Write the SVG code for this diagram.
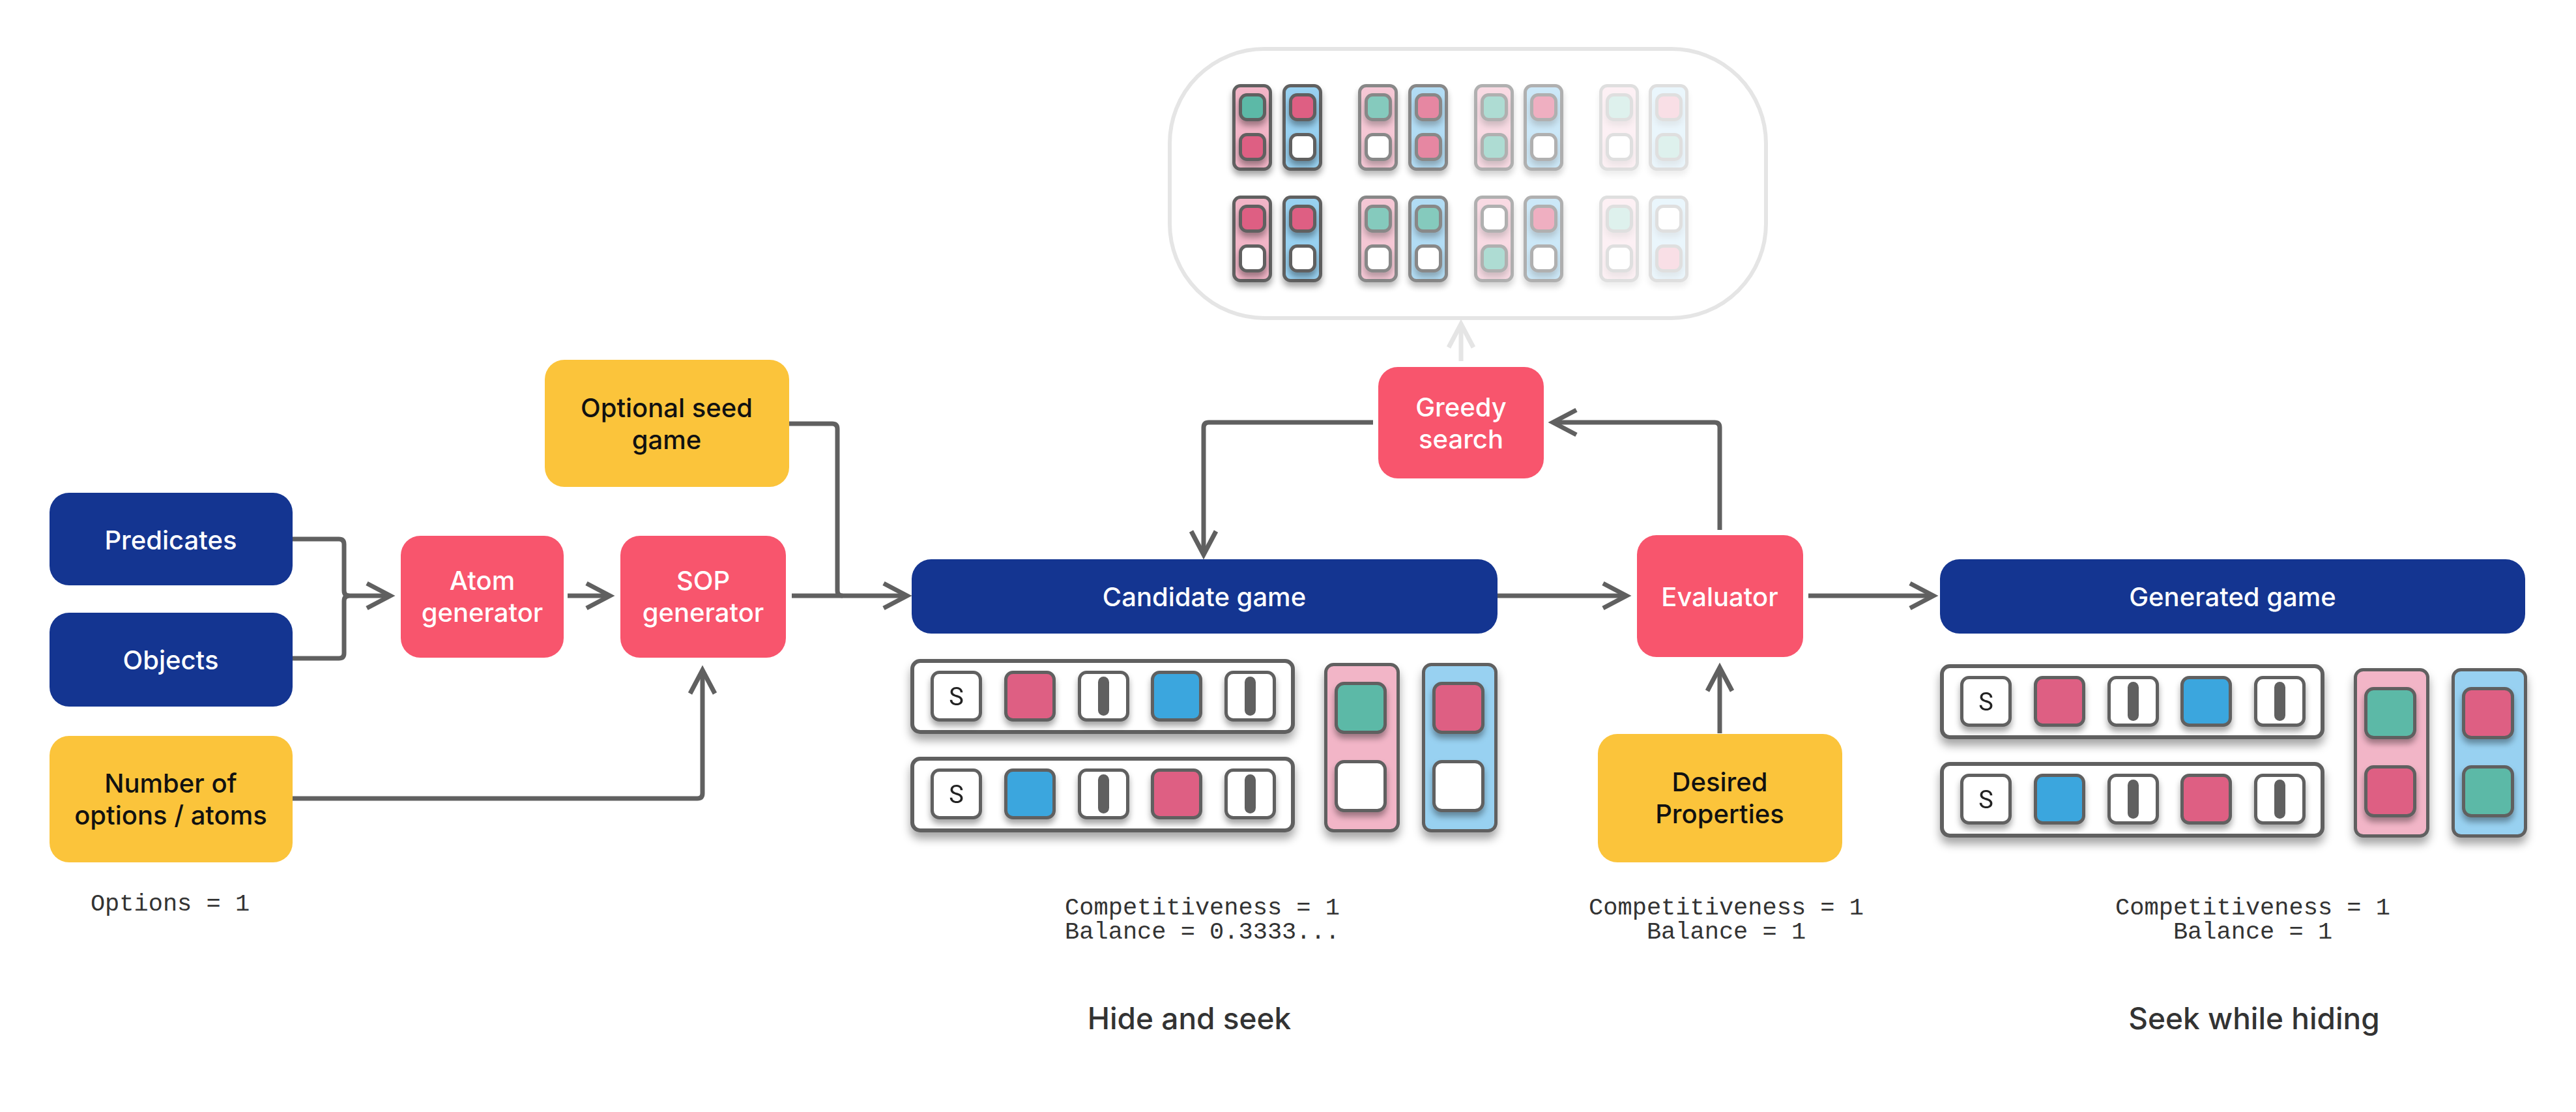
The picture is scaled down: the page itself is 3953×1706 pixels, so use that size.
<svg xmlns="http://www.w3.org/2000/svg" xmlns:xlink="http://www.w3.org/1999/xlink" width="3953" height="1706" viewBox="0 0 3953 1706">
<style>
.conn{fill:none;stroke:#606060;stroke-width:7;stroke-linejoin:round}
.light{fill:none;stroke:#e5e5e5;stroke-width:7}
.lbl{font-family:Inter,"Noto Sans","Liberation Sans",sans-serif;font-size:40px;font-weight:500;text-anchor:middle}
.w{fill:#ffffff}
.k{fill:#111111}
.navy{fill:#143591}
.red{fill:#f8556d}
.yel{fill:#fbc43b}
.mono{font-family:"Liberation Mono","DejaVu Sans Mono",monospace;font-size:37px;fill:#333333;text-anchor:middle}
.cap{font-family:Inter,"Noto Sans","Liberation Sans",sans-serif;font-size:46px;font-weight:500;fill:#333333;text-anchor:middle}
.box{fill:#ffffff;stroke:#606060;stroke-width:6}
</style>
<defs>
<filter id="sh" x="-50%" y="-50%" width="200%" height="200%">
<feDropShadow dx="0" dy="10" stdDeviation="7" flood-color="#000" flood-opacity="0.35"/>
</filter>
<filter id="shs" x="-50%" y="-50%" width="200%" height="200%">
<feDropShadow dx="0" dy="7" stdDeviation="5" flood-color="#000" flood-opacity="0.35"/>
</filter>
<marker id="ah" markerUnits="userSpaceOnUse" orient="auto" overflow="visible" markerWidth="10" markerHeight="10">
<path d="M-36,-19 L0,0 L-36,19" fill="none" stroke="#606060" stroke-width="7" stroke-linejoin="miter"/>
</marker>
<marker id="ahl" markerUnits="userSpaceOnUse" orient="auto" overflow="visible" markerWidth="10" markerHeight="10">
<path d="M-36,-19 L0,0 L-36,19" fill="none" stroke="#e5e5e5" stroke-width="7" stroke-linejoin="miter"/>
</marker>
<!-- row tiles 79x78 -->
<g id="tW"><rect x="2.5" y="2.5" width="74" height="73" rx="11" fill="#ffffff" stroke="#606060" stroke-width="5"/></g>
<g id="tR"><rect x="2.5" y="2.5" width="74" height="73" rx="11" fill="#de5e83" stroke="#606060" stroke-width="5"/></g>
<g id="tB"><rect x="2.5" y="2.5" width="74" height="73" rx="11" fill="#3ba6de" stroke="#606060" stroke-width="5"/></g>
<g id="tS"><use href="#tW"/><text x="39.5" y="53" font-family="Roboto,'Liberation Sans',sans-serif" font-size="38" fill="#222" text-anchor="middle">S</text></g>
<g id="tBar"><use href="#tW"/><rect x="31" y="9" width="17" height="60" rx="8.5" fill="#606060"/></g>
<!-- column tiles 80x80 -->
<g id="kT"><rect x="2.5" y="2.5" width="75" height="75" rx="12" fill="#5bb9a7" stroke="#606060" stroke-width="5"/></g>
<g id="kR"><rect x="2.5" y="2.5" width="75" height="75" rx="12" fill="#de5e83" stroke="#606060" stroke-width="5"/></g>
<g id="kW"><rect x="2.5" y="2.5" width="75" height="75" rx="12" fill="#ffffff" stroke="#606060" stroke-width="5"/></g>
<g id="colP"><rect x="2.5" y="2.5" width="111" height="255" rx="12" fill="#f2b5c7" stroke="#606060" stroke-width="5"/></g>
<g id="colB"><rect x="2.5" y="2.5" width="111" height="255" rx="12" fill="#98d1f1" stroke="#606060" stroke-width="5"/></g>
<!-- cloud pieces -->
<g id="cP"><rect x="2.5" y="2.5" width="56" height="128" rx="10" fill="#f2b5c7" stroke="#606060" stroke-width="5"/></g>
<g id="cB"><rect x="2.5" y="2.5" width="56" height="128" rx="10" fill="#98d1f1" stroke="#606060" stroke-width="5"/></g>
<g id="sT"><rect x="2.5" y="2.5" width="37" height="38" rx="10" fill="#5bb9a7" stroke="#606060" stroke-width="5"/></g>
<g id="sR"><rect x="2.5" y="2.5" width="37" height="38" rx="10" fill="#de5e83" stroke="#606060" stroke-width="5"/></g>
<g id="sW"><rect x="2.5" y="2.5" width="37" height="38" rx="10" fill="#ffffff" stroke="#606060" stroke-width="5"/></g>
<!-- full game illustration -->
<g id="gameRows">
<rect class="box" x="1400" y="1014" width="584" height="109" rx="12" filter="url(#sh)"/>
<rect class="box" x="1400" y="1164" width="584" height="110" rx="12" filter="url(#sh)"/>
<use href="#tS" x="1428" y="1029" filter="url(#shs)"/>
<use href="#tR" x="1541" y="1029" filter="url(#shs)"/>
<use href="#tBar" x="1654" y="1029" filter="url(#shs)"/>
<use href="#tB" x="1766" y="1029" filter="url(#shs)"/>
<use href="#tBar" x="1879" y="1029" filter="url(#shs)"/>
<use href="#tS" x="1428" y="1179" filter="url(#shs)"/>
<use href="#tB" x="1541" y="1179" filter="url(#shs)"/>
<use href="#tBar" x="1654" y="1179" filter="url(#shs)"/>
<use href="#tR" x="1766" y="1179" filter="url(#shs)"/>
<use href="#tBar" x="1879" y="1179" filter="url(#shs)"/>
<use href="#colP" x="2032" y="1017" filter="url(#sh)"/>
<use href="#colB" x="2182" y="1017" filter="url(#sh)"/>
</g>
</defs>
<rect width="3953" height="1706" fill="#ffffff"/>

<!-- search space cloud -->
<g id="search-space">
<rect x="1795" y="75" width="915" height="413" rx="145" fill="#ffffff" stroke="#e5e5e5" stroke-width="6"/>
<g id="cloud-g1" opacity="1">
<use href="#cP" x="1891" y="129" filter="url(#shs)"/><use href="#sT" x="1901" y="143" filter="url(#shs)"/><use href="#sR" x="1901" y="204" filter="url(#shs)"/>
<use href="#cB" x="1968" y="129" filter="url(#shs)"/><use href="#sR" x="1978" y="143" filter="url(#shs)"/><use href="#sW" x="1978" y="204" filter="url(#shs)"/>
<use href="#cP" x="1891" y="300" filter="url(#shs)"/><use href="#sR" x="1901" y="314" filter="url(#shs)"/><use href="#sW" x="1901" y="375" filter="url(#shs)"/>
<use href="#cB" x="1968" y="300" filter="url(#shs)"/><use href="#sR" x="1978" y="314" filter="url(#shs)"/><use href="#sW" x="1978" y="375" filter="url(#shs)"/>
</g>
<g id="cloud-g2" opacity="0.75">
<use href="#cP" x="2084" y="129" filter="url(#shs)"/><use href="#sT" x="2094" y="143" filter="url(#shs)"/><use href="#sW" x="2094" y="204" filter="url(#shs)"/>
<use href="#cB" x="2161" y="129" filter="url(#shs)"/><use href="#sR" x="2171" y="143" filter="url(#shs)"/><use href="#sR" x="2171" y="204" filter="url(#shs)"/>
<use href="#cP" x="2084" y="300" filter="url(#shs)"/><use href="#sT" x="2094" y="314" filter="url(#shs)"/><use href="#sW" x="2094" y="375" filter="url(#shs)"/>
<use href="#cB" x="2161" y="300" filter="url(#shs)"/><use href="#sT" x="2171" y="314" filter="url(#shs)"/><use href="#sW" x="2171" y="375" filter="url(#shs)"/>
</g>
<g id="cloud-g3" opacity="0.5">
<use href="#cP" x="2262" y="129" filter="url(#shs)"/><use href="#sT" x="2272" y="143" filter="url(#shs)"/><use href="#sT" x="2272" y="204" filter="url(#shs)"/>
<use href="#cB" x="2338" y="129" filter="url(#shs)"/><use href="#sR" x="2348" y="143" filter="url(#shs)"/><use href="#sW" x="2348" y="204" filter="url(#shs)"/>
<use href="#cP" x="2262" y="300" filter="url(#shs)"/><use href="#sW" x="2272" y="314" filter="url(#shs)"/><use href="#sT" x="2272" y="375" filter="url(#shs)"/>
<use href="#cB" x="2338" y="300" filter="url(#shs)"/><use href="#sR" x="2348" y="314" filter="url(#shs)"/><use href="#sW" x="2348" y="375" filter="url(#shs)"/>
</g>
<g id="cloud-g4" opacity="0.2">
<use href="#cP" x="2454" y="129" filter="url(#shs)"/><use href="#sT" x="2464" y="143" filter="url(#shs)"/><use href="#sW" x="2464" y="204" filter="url(#shs)"/>
<use href="#cB" x="2530" y="129" filter="url(#shs)"/><use href="#sR" x="2540" y="143" filter="url(#shs)"/><use href="#sT" x="2540" y="204" filter="url(#shs)"/>
<use href="#cP" x="2454" y="300" filter="url(#shs)"/><use href="#sT" x="2464" y="314" filter="url(#shs)"/><use href="#sW" x="2464" y="375" filter="url(#shs)"/>
<use href="#cB" x="2530" y="300" filter="url(#shs)"/><use href="#sW" x="2540" y="314" filter="url(#shs)"/><use href="#sR" x="2540" y="375" filter="url(#shs)"/>
</g>
</g>

<!-- connectors -->
<g id="connectors">
<path class="conn" d="M449,827 H520 Q528,827 528,835 V906 Q528,914 536,914 H599" marker-end="url(#ah)"/>
<path class="conn" d="M449,1010 H520 Q528,1010 528,1002 V922 Q528,914 536,914"/>
<path class="conn" d="M871,914 H936" marker-end="url(#ah)"/>
<path class="conn" d="M1211,650 H1277 Q1285,650 1285,658 V906 Q1285,914 1293,914"/>
<path class="conn" d="M1215,914 H1392" marker-end="url(#ah)"/>
<path class="conn" d="M449,1225 H1070 Q1078,1225 1078,1217 V1028" marker-end="url(#ah)"/>
<path class="conn" d="M2298,914 H2496" marker-end="url(#ah)"/>
<path class="conn" d="M2775,914 H2967" marker-end="url(#ah)"/>
<path class="conn" d="M2639,1125 V1024" marker-end="url(#ah)"/>
<path class="conn" d="M2639,813 V656 Q2639,648 2631,648 H2383" marker-end="url(#ah)"/>
<path class="conn" d="M2107,648 H1855 Q1847,648 1847,656 V851" marker-end="url(#ah)"/>
<path class="light" d="M2242,554 V497" marker-end="url(#ahl)"/>
</g>

<!-- nodes -->
<g id="predicates"><rect class="navy" x="76" y="756" width="373" height="142" rx="30"/><text class="lbl w" x="262" y="843">Predicates</text></g>
<g id="objects"><rect class="navy" x="76" y="940" width="373" height="144" rx="30"/><text class="lbl w" x="262" y="1027">Objects</text></g>
<g id="num-options"><rect class="yel" x="76" y="1129" width="373" height="194" rx="30"/><text class="lbl k" x="262" y="1216">Number of</text><text class="lbl k" x="262" y="1265">options / atoms</text></g>
<g id="options-text"><text class="mono" x="261" y="1397">Options = 1</text></g>
<g id="atom-gen"><rect class="red" x="615" y="822" width="250" height="187" rx="30"/><text class="lbl w" x="740" y="905">Atom</text><text class="lbl w" x="740" y="954">generator</text></g>
<g id="sop-gen"><rect class="red" x="952" y="822" width="254" height="187" rx="30"/><text class="lbl w" x="1079" y="905">SOP</text><text class="lbl w" x="1079" y="954">generator</text></g>
<g id="seed"><rect class="yel" x="836" y="552" width="375" height="195" rx="30"/><text class="lbl k" x="1023" y="640">Optional seed</text><text class="lbl k" x="1023" y="689">game</text></g>
<g id="candidate"><rect class="navy" x="1399" y="858" width="899" height="114" rx="30"/><text class="lbl w" x="1848" y="930">Candidate game</text></g>
<g id="candidate-illustration"><use href="#gameRows"/>
<use href="#kT" x="2048" y="1046" filter="url(#shs)"/><use href="#kW" x="2048" y="1166" filter="url(#shs)"/>
<use href="#kR" x="2198" y="1046" filter="url(#shs)"/><use href="#kW" x="2198" y="1166" filter="url(#shs)"/>
</g>
<g id="candidate-stats"><text class="mono" x="1845" y="1403">Competitiveness = 1</text><text class="mono" x="1845" y="1440">Balance = 0.3333...</text><text class="cap" x="1825" y="1579">Hide and seek</text></g>
<g id="greedy"><rect class="red" x="2115" y="563" width="254" height="171" rx="30"/><text class="lbl w" x="2242" y="639">Greedy</text><text class="lbl w" x="2242" y="688">search</text></g>
<g id="evaluator"><rect class="red" x="2512" y="821" width="255" height="187" rx="30"/><text class="lbl w" x="2639" y="930">Evaluator</text></g>
<g id="desired"><rect class="yel" x="2452" y="1126" width="375" height="197" rx="30"/><text class="lbl k" x="2639" y="1214">Desired</text><text class="lbl k" x="2639" y="1263">Properties</text></g>
<g id="evaluator-stats"><text class="mono" x="2649" y="1403">Competitiveness = 1</text><text class="mono" x="2649" y="1440">Balance = 1</text></g>
<g id="generated"><rect class="navy" x="2977" y="858" width="898" height="114" rx="30"/><text class="lbl w" x="3426" y="930">Generated game</text></g>
<g id="generated-illustration" transform="translate(1580,8)"><use href="#gameRows"/>
<use href="#kT" x="2048" y="1046" filter="url(#shs)"/><use href="#kR" x="2048" y="1166" filter="url(#shs)"/>
<use href="#kR" x="2198" y="1046" filter="url(#shs)"/><use href="#kT" x="2198" y="1166" filter="url(#shs)"/>
</g>
<g id="generated-stats"><text class="mono" x="3457" y="1403">Competitiveness = 1</text><text class="mono" x="3457" y="1440">Balance = 1</text><text class="cap" x="3459" y="1579">Seek while hiding</text></g>
</svg>
